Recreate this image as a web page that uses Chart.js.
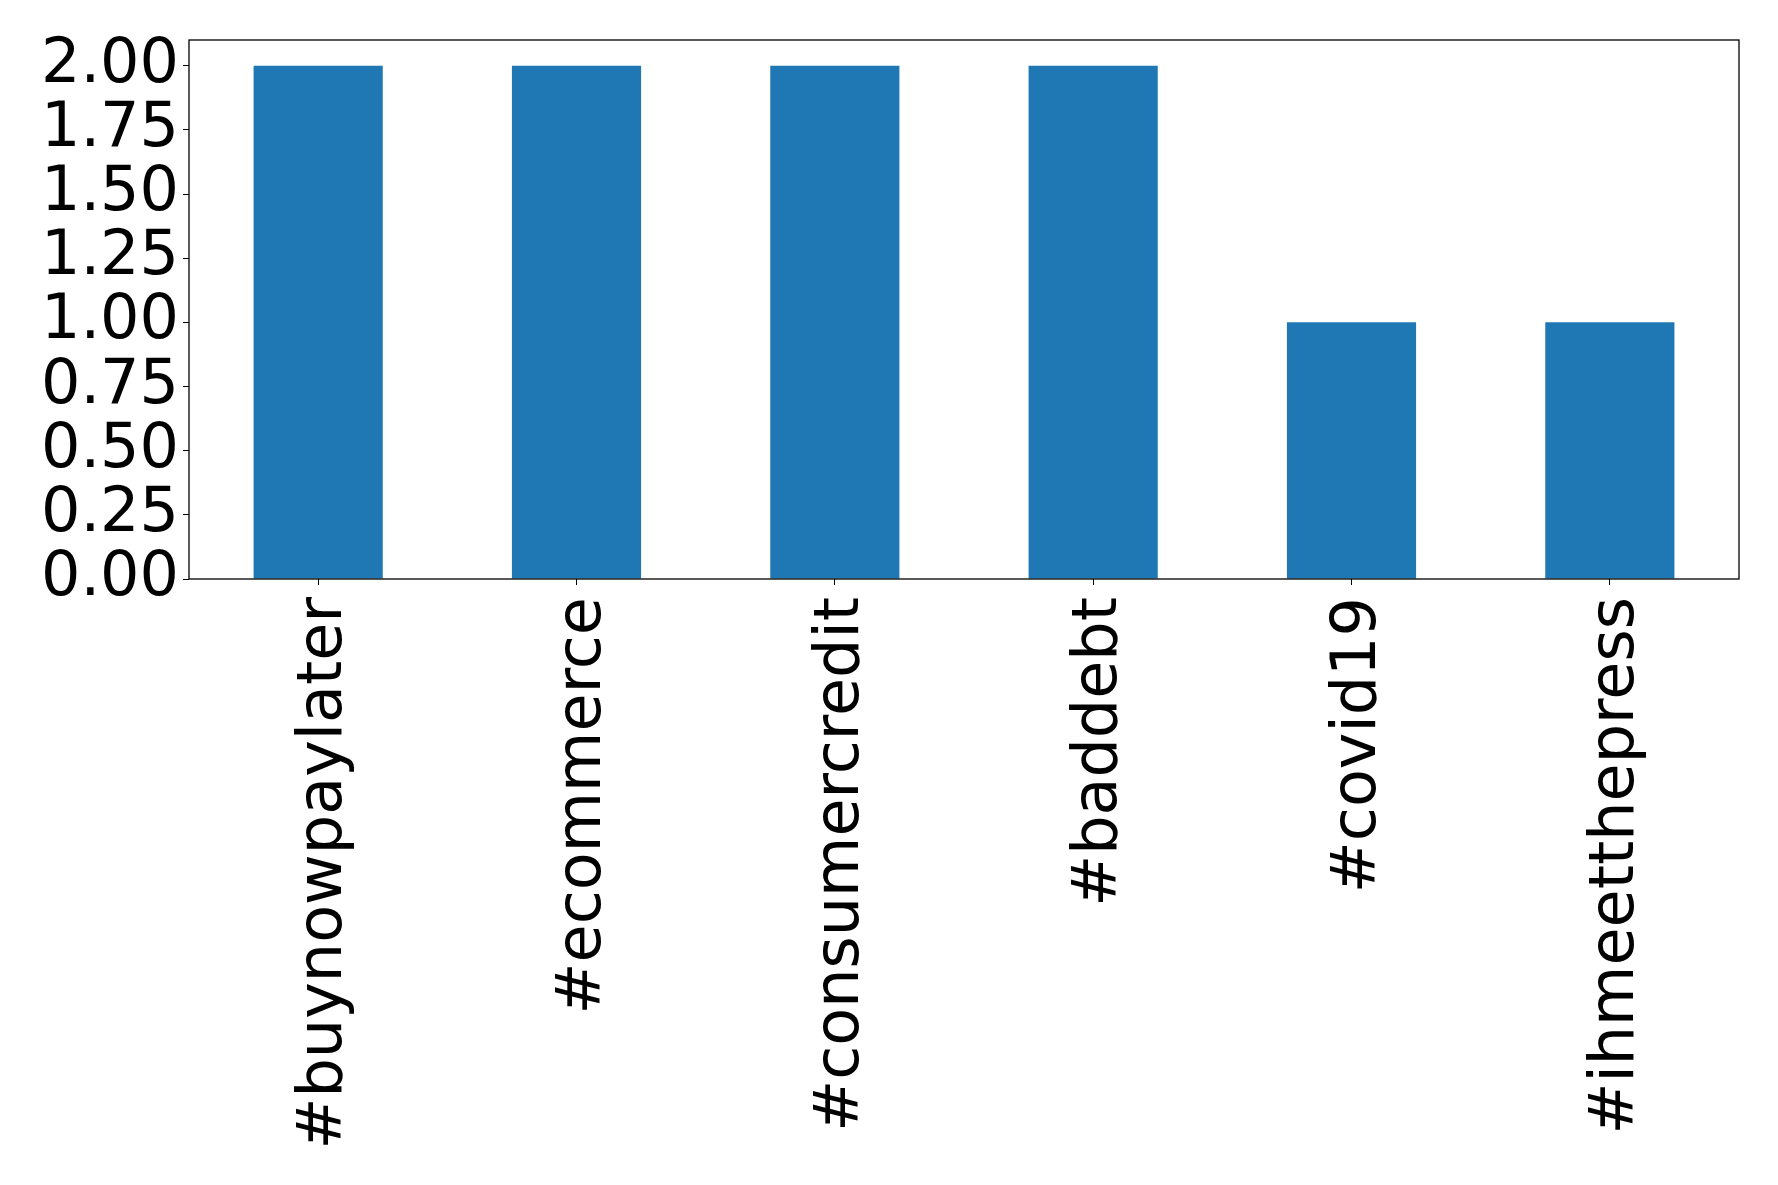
<!DOCTYPE html>
<html>
<head>
<meta charset="utf-8">
<script src="https://cdn.jsdelivr.net/npm/chart.js@4/dist/chart.umd.min.js"></script>
<style>
  html, body { margin: 0; padding: 0; background: #fff; }
  #wrap { width: 1778px; height: 1185px; position: relative; }
</style>
</head>
<body>
<div id="wrap"><canvas id="hashtagChart"></canvas></div>
<script>
// ============ DATA ============
const tags = ['#buynowpaylater', '#ecommerce', '#consumercredit', '#baddebt', '#covid19', '#ihmeetthepress'];
const counts = [2, 2, 2, 2, 1, 1];
const yTicks = [0, 0.25, 0.5, 0.75, 1, 1.25, 1.5, 1.75, 2];

// ============ FRAME PLUGIN ============
// matplotlib style box round the plot area
const frame = {
  id: 'frame',
  afterDraw(chart) {
    const { ctx, chartArea: a } = chart;
    ctx.save();
    ctx.strokeStyle = '#000';
    ctx.lineWidth = 1.3;
    ctx.strokeRect(a.left, a.top, a.right - a.left, a.bottom - a.top);
    ctx.restore();
  }
};

// ============ CHART ============
const font = { family: '"DejaVu Sans", sans-serif', size: 62 };
new Chart(document.getElementById('hashtagChart'), {
  type: 'bar',
  data: {
    labels: tags,
    datasets: [{ data: counts, backgroundColor: '#1f77b4', barPercentage: 0.5, categoryPercentage: 1 }]
  },
  options: {
    responsive: true,
    maintainAspectRatio: false,
    animation: false,
    layout: { padding: { top: 40, right: 39, left: 0, bottom: 0 } },
    plugins: { legend: { display: false }, tooltip: { enabled: false } },
    scales: {
      x: {
        grid: { display: true, offset: false, drawOnChartArea: false, drawTicks: true, tickLength: 6, tickColor: '#000' },
        border: { display: false },
        ticks: { color: '#000', font, minRotation: 90, maxRotation: 90, autoSkip: false, padding: 12, labelOffset: 7 },
        afterFit(s) { s.height = 606; s.paddingLeft = 0; s.paddingRight = 0; }
      },
      y: {
        min: 0,
        max: 2.1,
        grid: { display: true, drawOnChartArea: false, drawTicks: true, tickLength: 6, tickColor: '#000' },
        border: { display: false },
        ticks: { color: '#000', font, padding: 4, autoSkip: false, callback: v => v.toFixed(2) },
        afterBuildTicks(s) { s.ticks = yTicks.map(v => ({ value: v })); },
        afterFit(s) { s.width = 189; s.paddingTop = 0; s.paddingBottom = 0; }
      }
    }
  },
  plugins: [frame]
});
</script>
</body>
</html>
